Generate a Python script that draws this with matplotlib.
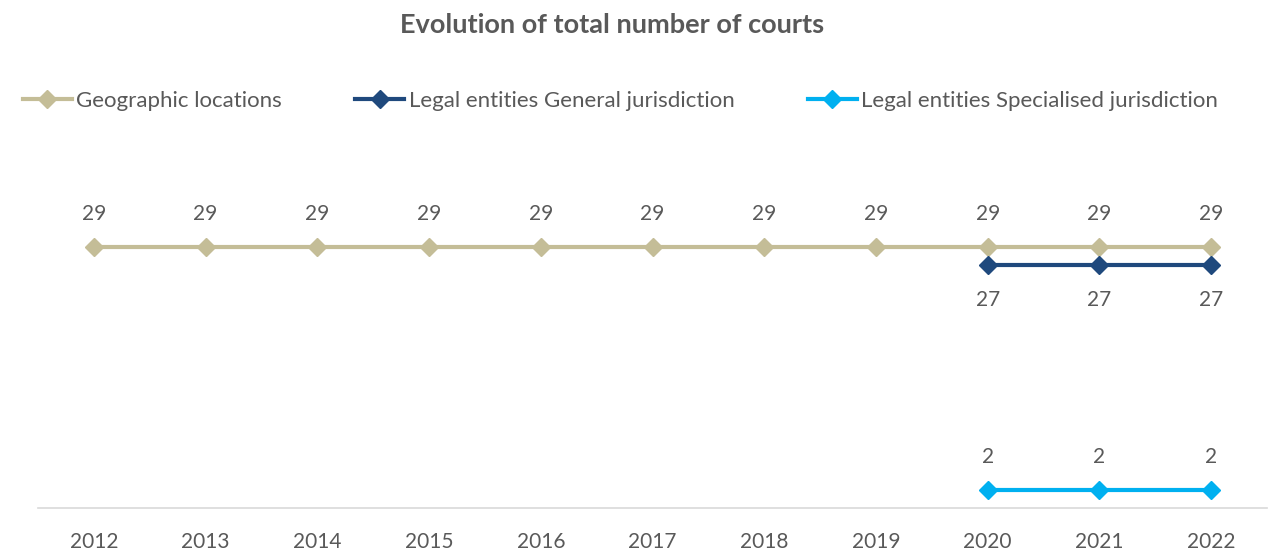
import matplotlib.pyplot as plt

years = ["2012", "2013", "2014", "2015", "2016", "2017", "2018", "2019", "2020", "2021", "2022"]
geo = [29, 29, 29, 29, 29, 29, 29, 29, 29, 29, 29]
general = [None] * 8 + [27, 27, 27]
special = [None] * 8 + [2, 2, 2]

plt.rcParams["font.family"] = ["Lato", "DejaVu Sans"]
grey = "#595959"

fig = plt.figure(figsize=(12.73, 5.55), dpi=100)
ax = fig.add_axes([38 / 1273, 1 - 508 / 555, 1229 / 1273, 288 / 555])

x = list(range(len(years)))
series = [
    ("Geographic locations", geo, "#C4BD97", 24),
    ("Legal entities General jurisdiction", general, "#1F497D", -25),
    ("Legal entities Specialised jurisdiction", special, "#00B0F0", 24),
]
handles = []
for name, vals, col, off in series:
    xs = [i for i, v in zip(x, vals) if v is not None]
    ys = [v for v in vals if v is not None]
    h, = ax.plot(xs, ys, color=col, lw=3, marker="D", ms=9, label=name)
    handles.append(h)
    for xi, yi in zip(xs, ys):
        ax.annotate(str(yi), (xi, yi), xytext=(0, off), textcoords="offset points",
                    ha="center", va="center", fontsize=15, color=grey)

ax.set_xlim(-0.5, len(years) - 0.5)
ax.set_ylim(0, 32)
ax.set_xticks(x)
ax.set_xticklabels(years, fontsize=15, color=grey)
ax.tick_params(axis="x", length=0, pad=17)
ax.set_yticks([])
for s in ["top", "right", "left"]:
    ax.spines[s].set_visible(False)
ax.spines["bottom"].set_color("#D9D9D9")
ax.spines["bottom"].set_linewidth(1.2)

fig.text(612 / 1273, 1 - 25 / 555, "Evolution of total number of courts", ha="center", va="center",
         fontsize=19.5, fontweight="bold", color=grey)

fig.legend(handles=handles, loc="center left", bbox_to_anchor=(3 / 1273, 1 - 101 / 555), ncol=3,
           frameon=False, fontsize=16, labelcolor=grey, handlelength=2.2, handletextpad=0.2,
           columnspacing=3.3)

fig.savefig("out.png", dpi=100)
